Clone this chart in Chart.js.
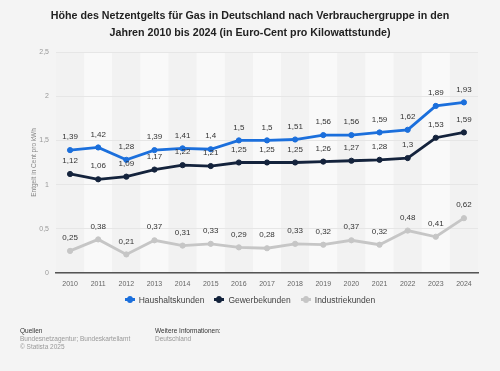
<!DOCTYPE html>
<html lang="de">
<head>
  <meta charset="UTF-8">
  <title>Netzentgelt Gas</title>
  <script src="https://cdn.jsdelivr.net/npm/chart.js"></script>
  <style>
    body {
      margin: 0;
      background-color: #f4f4f4;
      font-family: "Liberation Sans", Arial, sans-serif;
    }
    #wrap {
      position: relative;
      width: 500px;
      height: 371px;
    }
    #gasChart {
      position: absolute;
      left: 0;
      top: 0;
    }
    h2 {
      position: absolute;
      left: 0;
      top: 7px;
      width: 500px;
      margin: 0;
      text-align: center;
      font-size: 10.7px;
      line-height: 17px;
      font-weight: bold;
      color: #222;
    }
    #legend {
      position: absolute;
      top: 295px;
      left: 0;
      width: 500px;
      text-align: center;
      font-size: 8.5px;
      color: #444;
    }
    #legend span.item {
      margin: 0 5px;
    }
    #legend i {
      display: inline-block;
      position: relative;
      width: 10px;
      height: 3px;
      margin-right: 4px;
      vertical-align: middle;
      top: -1px;
    }
    #legend i:after {
      content: "";
      position: absolute;
      left: 2px;
      top: -2px;
      width: 6px;
      height: 7px;
      border-radius: 50%;
      background: inherit;
    }
    .foot {
      position: absolute;
      top: 327px;
      font-size: 6.5px;
      line-height: 8px;
      color: #999;
    }
    .foot b {
      font-weight: normal;
      color: #333;
    }
  </style>
</head>
<body>
<div id="wrap">
  <canvas id="gasChart" width="500" height="371"></canvas>
  <h2>Höhe des Netzentgelts für Gas in Deutschland nach Verbrauchergruppe in den<br>Jahren 2010 bis 2024 (in Euro-Cent pro Kilowattstunde)</h2>
  <div id="legend"></div>
  <div class="foot" style="left:20px"><b>Quellen</b><br>Bundesnetzagentur; Bundeskartellamt<br>© Statista 2025</div>
  <div class="foot" style="left:155px"><b>Weitere Informationen:</b><br>Deutschland</div>
</div>

<script>
  const years = ['2010', '2011', '2012', '2013', '2014', '2015', '2016', '2017',
                 '2018', '2019', '2020', '2021', '2022', '2023', '2024'];
  const haushalt = [1.39, 1.42, 1.28, 1.39, 1.41, 1.4, 1.5, 1.5, 1.51, 1.56, 1.56, 1.59, 1.62, 1.89, 1.93];
  const gewerbe = [1.12, 1.06, 1.09, 1.17, 1.22, 1.21, 1.25, 1.25, 1.25, 1.26, 1.27, 1.28, 1.3, 1.53, 1.59];
  const industrie = [0.25, 0.38, 0.21, 0.37, 0.31, 0.33, 0.29, 0.28, 0.33, 0.32, 0.37, 0.32, 0.48, 0.41, 0.62];
  const seriesNames = ['Haushaltskunden', 'Gewerbekunden', 'Industriekunden'];
  const seriesColors = ['#1b6fdc', '#14233c', '#c6c6c6'];

  function fmt(v) {
    return String(v).replace('.', ',');
  }

  // alternating column stripes behind the plot
  const stripes = {
    id: 'stripes',
    beforeDraw(chart) {
      const ctx = chart.ctx;
      const x = chart.scales.x;
      const area = chart.chartArea;
      const w = (area.right - area.left) / years.length;
      ctx.save();
      years.forEach((y, i) => {
        const cx = x.getPixelForValue(i);
        ctx.fillStyle = i % 2 ? '#f9f9f9' : '#f2f2f2';
        ctx.fillRect(cx - w / 2, area.top, w, area.bottom - area.top);
      });
      ctx.restore();
    }
  };

  // value labels above each point
  const valueLabels = {
    id: 'valueLabels',
    afterDatasetsDraw(chart) {
      const ctx = chart.ctx;
      ctx.save();
      ctx.font = '8px "Liberation Sans", Arial, sans-serif';
      ctx.fillStyle = '#333';
      ctx.textAlign = 'center';
      ctx.textBaseline = 'middle';
      chart.data.datasets.forEach((ds, di) => {
        chart.getDatasetMeta(di).data.forEach((pt, i) => {
          ctx.fillText(fmt(ds.data[i]), pt.x, pt.y - 13);
        });
      });
      ctx.restore();
    }
  };

  const datasets = [haushalt, gewerbe, industrie].map((d, i) => ({
    label: seriesNames[i],
    data: d,
    borderColor: seriesColors[i],
    backgroundColor: seriesColors[i],
    borderWidth: 2.8,
    pointRadius: 2.6,
    pointBorderWidth: 1,
    pointHoverRadius: 2.6,
    tension: 0
  }));

  document.getElementById('legend').innerHTML = seriesNames.map((n, i) =>
    '<span class="item"><i style="background:' + seriesColors[i] + '"></i>' + n + '</span>'
  ).join('');

  new Chart(document.getElementById('gasChart'), {
    type: 'line',
    data: { labels: years, datasets: datasets },
    plugins: [stripes, valueLabels],
    options: {
      responsive: false,
      animation: false,
      layout: { padding: { left: 26, right: 22, top: 52, bottom: 78 } },
      plugins: {
        legend: { display: false },
        title: { display: false },
        tooltip: { enabled: false }
      },
      scales: {
        x: {
          offset: true,
          afterFit: s => { s.height = 20; },
          grid: { display: false, drawTicks: false },
          border: { display: true, color: '#555', width: 1.5 },
          ticks: {
            color: '#666',
            padding: 7,
            maxRotation: 0,
            font: { size: 7, family: '"Liberation Sans", Arial, sans-serif' }
          }
        },
        y: {
          min: 0,
          max: 2.5,
          afterFit: s => { s.width = 30; },
          grid: { color: '#e6e6e6', drawTicks: false },
          border: { display: false },
          ticks: {
            stepSize: 0.5,
            color: '#999',
            padding: 7,
            font: { size: 7, family: '"Liberation Sans", Arial, sans-serif' },
            callback: v => fmt(v)
          },
          title: {
            display: true,
            text: 'Entgelt in Cent pro kWh',
            color: '#888',
            padding: { top: 4, bottom: 0 },
            font: { size: 6.5, family: '"Liberation Sans", Arial, sans-serif' }
          }
        }
      }
    }
  });
</script>
</body>
</html>
